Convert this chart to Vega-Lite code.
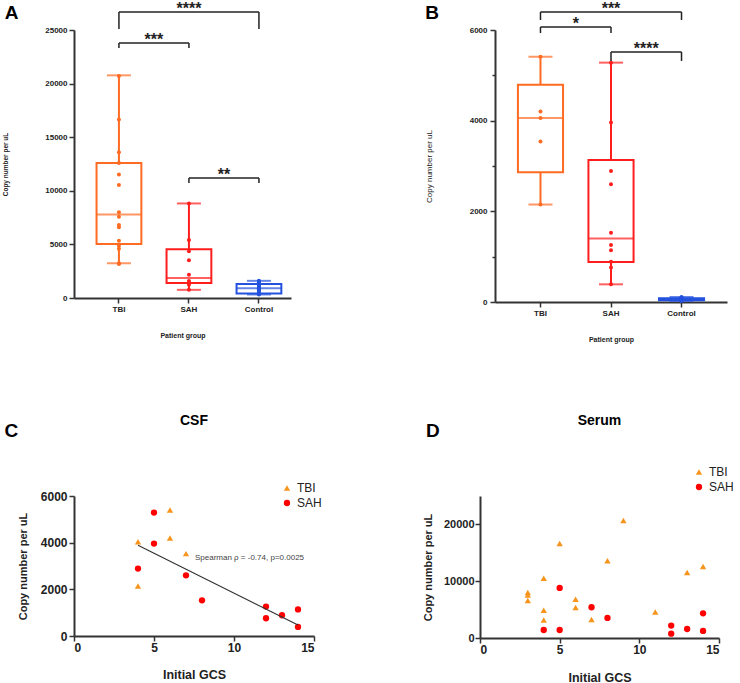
{
 "$schema": "https://vega.github.io/schema/vega-lite/v6.json",
 "background": "white",
 "padding": {"left": 2, "top": 0, "right": 0, "bottom": 0},
 "config": {
  "font": "Liberation Sans",
  "view": {"stroke": null},
  "axis": {"grid": false, "labelFont": "Liberation Sans", "titleFont": "Liberation Sans", "domainColor": "#333", "tickColor": "#333", "labelColor": "#222", "titleColor": "#222"},
  "title": {"font": "Liberation Sans", "color": "#000"},
  "legend": {"labelFont": "Liberation Sans"},
  "text": {"font": "Liberation Sans"}
 },
 "datasets": {
  "A_box": [
   {"group": "TBI", "min": 3240, "q1": 5030, "median": 7800, "q3": 12600, "max": 20770},
   {"group": "SAH", "min": 760, "q1": 1400, "median": 1870, "q3": 4550, "max": 8820},
   {"group": "Control", "min": 330, "q1": 430, "median": 900, "q3": 1300, "max": 1600}
  ],
  "A_pts": [
   {"group": "TBI", "value": 20700}, {"group": "TBI", "value": 16650}, {"group": "TBI", "value": 13590}, {"group": "TBI", "value": 12590}, {"group": "TBI", "value": 11530}, {"group": "TBI", "value": 10530}, {"group": "TBI", "value": 8000}, {"group": "TBI", "value": 7590}, {"group": "TBI", "value": 6820}, {"group": "TBI", "value": 6590}, {"group": "TBI", "value": 5350}, {"group": "TBI", "value": 4880}, {"group": "TBI", "value": 4590}, {"group": "TBI", "value": 3240}, {"group": "TBI", "value": 3180},
   {"group": "SAH", "value": 8820}, {"group": "SAH", "value": 5410}, {"group": "SAH", "value": 4350}, {"group": "SAH", "value": 3530}, {"group": "SAH", "value": 2180}, {"group": "SAH", "value": 1590}, {"group": "SAH", "value": 1410}, {"group": "SAH", "value": 1410}, {"group": "SAH", "value": 1240}, {"group": "SAH", "value": 760},
   {"group": "Control", "value": 1600}, {"group": "Control", "value": 1450}, {"group": "Control", "value": 1350}, {"group": "Control", "value": 1150}, {"group": "Control", "value": 1050}, {"group": "Control", "value": 950}, {"group": "Control", "value": 900}, {"group": "Control", "value": 800}, {"group": "Control", "value": 700}, {"group": "Control", "value": 550}, {"group": "Control", "value": 450}, {"group": "Control", "value": 380}, {"group": "Control", "value": 330}
  ],
  "A_br": [
   {"group": "TBI", "to": "Control", "y": 26680},
   {"group": "TBI", "to": "SAH", "y": 23790},
   {"group": "SAH", "to": "Control", "y": 11190}
  ],
  "A_ends": [
   {"group": "TBI", "y": 26680, "y2": 25090}, {"group": "Control", "y": 26680, "y2": 25090},
   {"group": "TBI", "y": 23790, "y2": 23320}, {"group": "SAH", "y": 23790, "y2": 23320},
   {"group": "SAH", "y": 11190, "y2": 10730}, {"group": "Control", "y": 11190, "y2": 10730}
  ],
  "A_lbl_adj": [{"group": "TBI", "y": 23790, "label": "***"}, {"group": "SAH", "y": 11190, "label": "**"}],
  "A_lbl_wide": [{"group": "SAH", "y": 26680, "label": "****"}],
  "B_box": [
   {"group": "TBI", "min": 2150, "q1": 2860, "median": 4060, "q3": 4790, "max": 5410},
   {"group": "SAH", "min": 390, "q1": 880, "median": 1400, "q3": 3130, "max": 5280},
   {"group": "Control", "min": 25, "q1": 40, "median": 62, "q3": 82, "max": 110}
  ],
  "B_pts": [
   {"group": "TBI", "value": 5410}, {"group": "TBI", "value": 4200}, {"group": "TBI", "value": 4060}, {"group": "TBI", "value": 3540}, {"group": "TBI", "value": 2150},
   {"group": "SAH", "value": 5280}, {"group": "SAH", "value": 3960}, {"group": "SAH", "value": 2890}, {"group": "SAH", "value": 2600}, {"group": "SAH", "value": 1530}, {"group": "SAH", "value": 1260}, {"group": "SAH", "value": 1140}, {"group": "SAH", "value": 890}, {"group": "SAH", "value": 760}, {"group": "SAH", "value": 390},
   {"group": "Control", "value": 110}, {"group": "Control", "value": 95}, {"group": "Control", "value": 88}, {"group": "Control", "value": 80}, {"group": "Control", "value": 72}, {"group": "Control", "value": 65}, {"group": "Control", "value": 60}, {"group": "Control", "value": 52}, {"group": "Control", "value": 45}, {"group": "Control", "value": 38}, {"group": "Control", "value": 30}, {"group": "Control", "value": 25}
  ],
  "B_br": [
   {"group": "TBI", "to": "Control", "y": 6397},
   {"group": "TBI", "to": "SAH", "y": 6066},
   {"group": "SAH", "to": "Control", "y": 5515}
  ],
  "B_ends": [
   {"group": "TBI", "y": 6397, "y2": 6221}, {"group": "Control", "y": 6397, "y2": 6221},
   {"group": "TBI", "y": 6066, "y2": 5934}, {"group": "SAH", "y": 6066, "y2": 5934},
   {"group": "SAH", "y": 5515, "y2": 5317}, {"group": "Control", "y": 5515, "y2": 5317}
  ],
  "B_lbl_adj": [{"group": "TBI", "y": 6066, "label": "*"}, {"group": "SAH", "y": 5515, "label": "****"}],
  "B_lbl_wide": [{"group": "SAH", "y": 6397, "label": "***"}],
  "C_pts": [
   {"gcs": 4, "copies": 4040, "group": "TBI"}, {"gcs": 4, "copies": 2140, "group": "TBI"}, {"gcs": 6, "copies": 5400, "group": "TBI"}, {"gcs": 6, "copies": 4200, "group": "TBI"}, {"gcs": 7, "copies": 3530, "group": "TBI"},
   {"gcs": 4, "copies": 2890, "group": "SAH"}, {"gcs": 5, "copies": 5290, "group": "SAH"}, {"gcs": 5, "copies": 3960, "group": "SAH"}, {"gcs": 7, "copies": 2600, "group": "SAH"}, {"gcs": 8, "copies": 1530, "group": "SAH"}, {"gcs": 12, "copies": 1260, "group": "SAH"}, {"gcs": 12, "copies": 760, "group": "SAH"}, {"gcs": 13, "copies": 890, "group": "SAH"}, {"gcs": 14, "copies": 1140, "group": "SAH"}, {"gcs": 14, "copies": 390, "group": "SAH"}
  ],
  "C_fit": [{"gcs": 4, "copies": 3890}, {"gcs": 14, "copies": 470}],
  "C_note": [{"gcs": 7.56, "copies": 3343, "label": "Spearman ρ = -0.74, p=0.0025"}],
  "C_tag": [{"gcs": -4.35, "copies": 8786, "label": "C"}],
  "D_pts": [
   {"gcs": 3, "copies": 8000, "group": "TBI"}, {"gcs": 3, "copies": 7590, "group": "TBI"}, {"gcs": 3, "copies": 6590, "group": "TBI"}, {"gcs": 4, "copies": 10530, "group": "TBI"}, {"gcs": 4, "copies": 4880, "group": "TBI"}, {"gcs": 4, "copies": 3180, "group": "TBI"}, {"gcs": 5, "copies": 16650, "group": "TBI"}, {"gcs": 6, "copies": 6820, "group": "TBI"}, {"gcs": 6, "copies": 5350, "group": "TBI"}, {"gcs": 7, "copies": 3240, "group": "TBI"}, {"gcs": 8, "copies": 13590, "group": "TBI"}, {"gcs": 9, "copies": 20700, "group": "TBI"}, {"gcs": 11, "copies": 4590, "group": "TBI"}, {"gcs": 13, "copies": 11530, "group": "TBI"}, {"gcs": 14, "copies": 12590, "group": "TBI"},
   {"gcs": 4, "copies": 1410, "group": "SAH"}, {"gcs": 5, "copies": 8820, "group": "SAH"}, {"gcs": 5, "copies": 1410, "group": "SAH"}, {"gcs": 7, "copies": 5410, "group": "SAH"}, {"gcs": 8, "copies": 3530, "group": "SAH"}, {"gcs": 12, "copies": 2180, "group": "SAH"}, {"gcs": 12, "copies": 760, "group": "SAH"}, {"gcs": 13, "copies": 1590, "group": "SAH"}, {"gcs": 14, "copies": 4350, "group": "SAH"}, {"gcs": 14, "copies": 1240, "group": "SAH"}
  ],
  "D_tag": [{"gcs": -3.39, "copies": 36440, "label": "D"}]
 },
 "spacing": 71,
 "resolve": {"scale": {"color": "independent", "shape": "independent"}, "legend": {"color": "independent", "shape": "independent"}},
 "vconcat": [
  {
   "resolve": {"scale": {"color": "independent", "shape": "independent"}, "legend": {"color": "independent", "shape": "independent"}},
   "hconcat": [
    {
     "width": 217, "height": 268,
     "title": {"text": "A", "anchor": "start", "frame": "bounds", "fontSize": 19, "fontWeight": "bold", "offset": -22, "dx": 2},
     "layer": [
      {"data": {"name": "A_box"}, "mark": {"type": "bar", "filled": false, "strokeWidth": 2},
       "encoding": {
        "x": {"field": "group", "type": "nominal", "scale": {"domain": ["TBI", "SAH", "Control"], "paddingInner": 0.36, "paddingOuter": 0.23, "align": 0.7},
              "axis": {"title": "Patient group", "labelAngle": 0, "labelFontSize": 8, "labelFontWeight": "bold", "titleFontSize": 7, "titleFontWeight": "bold", "titlePadding": 18, "tickSize": 5, "labelPadding": 2, "domainWidth": 2, "tickWidth": 1.5}},
        "y": {"field": "q1", "type": "quantitative", "scale": {"domain": [0, 25000], "nice": false},
              "axis": {"title": "Copy number per uL", "labelOverlap": {"expr": "false"}, "values": [0, 2500, 5000, 7500, 10000, 12500, 15000, 17500, 20000, 22500, 25000], "format": "d", "labelExpr": "datum.value % 5000 === 0 ? datum.label : ''", "tickSize": {"condition": {"test": "datum.value % 5000 === 0", "value": 5}, "value": 3}, "labelFontSize": 8, "labelFontWeight": "bold", "titleFontSize": 6.5, "titleFontWeight": "bold", "titlePadding": 36, "labelPadding": 2, "domainWidth": 2, "tickWidth": 1.5}},
        "y2": {"field": "q3"},
        "color": {"field": "group", "type": "nominal", "scale": {"domain": ["TBI", "SAH", "Control"], "range": ["#FF6B22", "#FF1E1E", "#2452DE"]}, "legend": null}
       }},
      {"data": {"name": "A_box"}, "mark": {"type": "rule", "strokeWidth": 2},
       "encoding": {"x": {"field": "group", "type": "nominal"}, "y": {"field": "min", "type": "quantitative"}, "y2": {"field": "q1"}, "color": {"field": "group", "type": "nominal", "legend": null}}},
      {"data": {"name": "A_box"}, "mark": {"type": "rule", "strokeWidth": 2},
       "encoding": {"x": {"field": "group", "type": "nominal"}, "y": {"field": "q3", "type": "quantitative"}, "y2": {"field": "max"}, "color": {"field": "group", "type": "nominal", "legend": null}}},
      {"data": {"name": "A_box"}, "mark": {"type": "tick", "thickness": 2, "size": 24},
       "encoding": {"x": {"field": "group", "type": "nominal"}, "y": {"field": "min", "type": "quantitative"}, "color": {"field": "group", "type": "nominal", "legend": null}}},
      {"data": {"name": "A_box"}, "mark": {"type": "tick", "thickness": 2, "size": 24},
       "encoding": {"x": {"field": "group", "type": "nominal"}, "y": {"field": "max", "type": "quantitative"}, "color": {"field": "group", "type": "nominal", "legend": null}}},
      {"data": {"name": "A_box"}, "mark": {"type": "tick", "thickness": 2, "size": 45},
       "encoding": {"x": {"field": "group", "type": "nominal"}, "y": {"field": "median", "type": "quantitative"}, "color": {"field": "group", "type": "nominal", "legend": null}}},
      {"data": {"name": "A_pts"}, "mark": {"type": "circle", "size": 16, "opacity": 1},
       "encoding": {"x": {"field": "group", "type": "nominal"}, "y": {"field": "value", "type": "quantitative"}, "color": {"field": "group", "type": "nominal", "legend": null}}},
      {"data": {"name": "A_br"}, "mark": {"type": "rule", "color": "#222", "strokeWidth": 1.5},
       "encoding": {"x": {"field": "group", "type": "nominal"}, "x2": {"field": "to"}, "y": {"field": "y", "type": "quantitative"}}},
      {"data": {"name": "A_ends"}, "mark": {"type": "rule", "color": "#222", "strokeWidth": 1.5},
       "encoding": {"x": {"field": "group", "type": "nominal"}, "y": {"field": "y", "type": "quantitative"}, "y2": {"field": "y2"}}},
      {"data": {"name": "A_lbl_adj"}, "mark": {"type": "text", "fontSize": 16, "fontWeight": "bold", "baseline": "alphabetic", "dy": 2, "color": "#222"},
       "encoding": {"x": {"field": "group", "type": "nominal", "bandPosition": 1.28125}, "y": {"field": "y", "type": "quantitative"}, "text": {"field": "label"}}},
      {"data": {"name": "A_lbl_wide"}, "mark": {"type": "text", "fontSize": 16, "fontWeight": "bold", "baseline": "alphabetic", "dy": 2, "color": "#222"},
       "encoding": {"x": {"field": "group", "type": "nominal"}, "y": {"field": "y", "type": "quantitative"}, "text": {"field": "label"}}}
     ]
    },
    {
     "width": 232, "height": 272,
     "title": {"text": "B", "anchor": "start", "frame": "bounds", "fontSize": 19, "fontWeight": "bold", "offset": -22, "dx": 0},
     "layer": [
      {"data": {"name": "B_box"}, "mark": {"type": "bar", "filled": false, "strokeWidth": 2},
       "encoding": {
        "x": {"field": "group", "type": "nominal", "scale": {"domain": ["TBI", "SAH", "Control"], "paddingInner": 0.36, "paddingOuter": 0.325, "align": 0.5},
              "axis": {"title": "Patient group", "labelAngle": 0, "labelFontSize": 8, "labelFontWeight": "bold", "titleFontSize": 7, "titleFontWeight": "bold", "titlePadding": 18, "tickSize": 5, "labelPadding": 2, "domainWidth": 2, "tickWidth": 1.5}},
        "y": {"field": "q1", "type": "quantitative", "scale": {"domain": [0, 6000], "nice": false},
              "axis": {"title": "Copy number per uL", "labelOverlap": {"expr": "false"}, "values": [0, 1000, 2000, 3000, 4000, 5000, 6000], "format": "d", "labelExpr": "datum.value % 2000 === 0 ? datum.label : ''", "tickSize": {"condition": {"test": "datum.value % 2000 === 0", "value": 5}, "value": 3}, "labelFontSize": 8, "labelFontWeight": "bold", "titleFontSize": 8, "titleFontWeight": "normal", "titlePadding": 36, "labelPadding": 3, "domainWidth": 2, "tickWidth": 1.5}},
        "y2": {"field": "q3"},
        "color": {"field": "group", "type": "nominal", "scale": {"domain": ["TBI", "SAH", "Control"], "range": ["#FF6B22", "#FF1E1E", "#2452DE"]}, "legend": null}
       }},
      {"data": {"name": "B_box"}, "mark": {"type": "rule", "strokeWidth": 2},
       "encoding": {"x": {"field": "group", "type": "nominal"}, "y": {"field": "min", "type": "quantitative"}, "y2": {"field": "q1"}, "color": {"field": "group", "type": "nominal", "legend": null}}},
      {"data": {"name": "B_box"}, "mark": {"type": "rule", "strokeWidth": 2},
       "encoding": {"x": {"field": "group", "type": "nominal"}, "y": {"field": "q3", "type": "quantitative"}, "y2": {"field": "max"}, "color": {"field": "group", "type": "nominal", "legend": null}}},
      {"data": {"name": "B_box"}, "mark": {"type": "tick", "thickness": 2, "size": 24},
       "encoding": {"x": {"field": "group", "type": "nominal"}, "y": {"field": "min", "type": "quantitative"}, "color": {"field": "group", "type": "nominal", "legend": null}}},
      {"data": {"name": "B_box"}, "mark": {"type": "tick", "thickness": 2, "size": 24},
       "encoding": {"x": {"field": "group", "type": "nominal"}, "y": {"field": "max", "type": "quantitative"}, "color": {"field": "group", "type": "nominal", "legend": null}}},
      {"data": {"name": "B_box"}, "mark": {"type": "tick", "thickness": 2, "size": 45},
       "encoding": {"x": {"field": "group", "type": "nominal"}, "y": {"field": "median", "type": "quantitative"}, "color": {"field": "group", "type": "nominal", "legend": null}}},
      {"data": {"name": "B_pts"}, "mark": {"type": "circle", "size": 16, "opacity": 1},
       "encoding": {"x": {"field": "group", "type": "nominal"}, "y": {"field": "value", "type": "quantitative"}, "color": {"field": "group", "type": "nominal", "legend": null}}},
      {"data": {"name": "B_br"}, "mark": {"type": "rule", "color": "#222", "strokeWidth": 1.5},
       "encoding": {"x": {"field": "group", "type": "nominal"}, "x2": {"field": "to"}, "y": {"field": "y", "type": "quantitative"}}},
      {"data": {"name": "B_ends"}, "mark": {"type": "rule", "color": "#222", "strokeWidth": 1.5},
       "encoding": {"x": {"field": "group", "type": "nominal"}, "y": {"field": "y", "type": "quantitative"}, "y2": {"field": "y2"}}},
      {"data": {"name": "B_lbl_adj"}, "mark": {"type": "text", "fontSize": 16, "fontWeight": "bold", "baseline": "alphabetic", "dy": 2, "color": "#222"},
       "encoding": {"x": {"field": "group", "type": "nominal", "bandPosition": 1.28125}, "y": {"field": "y", "type": "quantitative"}, "text": {"field": "label"}}},
      {"data": {"name": "B_lbl_wide"}, "mark": {"type": "text", "fontSize": 16, "fontWeight": "bold", "baseline": "alphabetic", "dy": 2, "color": "#222"},
       "encoding": {"x": {"field": "group", "type": "nominal"}, "y": {"field": "y", "type": "quantitative"}, "text": {"field": "label"}}}
     ]
    }
   ],
   "spacing": 134
  },
  {
   "resolve": {"scale": {"color": "independent", "shape": "independent"}, "legend": {"color": "independent", "shape": "independent"}},
   "hconcat": [
    {
     "width": 240, "height": 140,
     "title": {"text": "CSF", "fontSize": 14, "fontWeight": "bold", "anchor": "middle", "frame": "group", "offset": -6},
     "layer": [
      {"data": {"name": "C_pts"}, "mark": {"type": "point", "filled": true, "size": 40, "opacity": 1},
       "encoding": {
        "x": {"field": "gcs", "type": "quantitative", "scale": {"domain": [0, 15], "nice": false, "zero": false},
              "axis": {"title": "Initial GCS", "labelOverlap": {"expr": "false"}, "values": [0, 5, 10, 15], "tickSize": 5, "labelFontSize": 12, "labelFontWeight": "bold", "titleFontSize": 12.5, "titleFontWeight": "bold", "titlePadding": 15, "labelPadding": 1, "domainWidth": 2, "tickWidth": 1.5}},
        "y": {"field": "copies", "type": "quantitative", "scale": {"domain": [0, 6000], "nice": false},
              "axis": {"title": "Copy number per uL", "labelOverlap": {"expr": "false"}, "values": [0, 2000, 4000, 6000], "format": "d", "tickSize": 5, "labelFontSize": 12, "labelFontWeight": "bold", "titleFontSize": 11, "titleFontWeight": "bold", "titlePadding": 12, "labelPadding": 2, "domainWidth": 2, "tickWidth": 1.5}},
        "color": {"field": "group", "type": "nominal", "scale": {"domain": ["TBI", "SAH"], "range": ["#F7941D", "#FF0000"]},
                  "legend": {"title": null, "orient": "none", "legendX": 207, "legendY": -14, "labelFontSize": 12, "symbolSize": 40, "rowPadding": 3, "labelColor": "#222"}},
        "shape": {"field": "group", "type": "nominal", "scale": {"domain": ["TBI", "SAH"], "range": ["triangle-up", "circle"]},
                  "legend": {"title": null, "orient": "none", "legendX": 207, "legendY": -14, "labelFontSize": 12, "symbolSize": 40, "rowPadding": 3, "labelColor": "#222"}}
       }},
      {"data": {"name": "C_fit"}, "mark": {"type": "line", "color": "#333", "strokeWidth": 1.2},
       "encoding": {"x": {"field": "gcs", "type": "quantitative"}, "y": {"field": "copies", "type": "quantitative"}}},
      {"data": {"name": "C_note"}, "mark": {"type": "text", "align": "left", "baseline": "middle", "fontSize": 8, "color": "#444"},
       "encoding": {"x": {"field": "gcs", "type": "quantitative"}, "y": {"field": "copies", "type": "quantitative"}, "text": {"field": "label"}}},
      {"data": {"name": "C_tag"}, "mark": {"type": "text", "align": "left", "baseline": "middle", "fontSize": 19, "fontWeight": "bold", "color": "#000"},
       "encoding": {"x": {"field": "gcs", "type": "quantitative"}, "y": {"field": "copies", "type": "quantitative"}, "text": {"field": "label"}}}
     ]
    },
    {
     "width": 239, "height": 142,
     "title": {"text": "Serum", "fontSize": 14, "fontWeight": "bold", "anchor": "middle", "frame": "group", "offset": -6},
     "layer": [
      {"data": {"name": "D_pts"}, "mark": {"type": "point", "filled": true, "size": 40, "opacity": 1},
       "encoding": {
        "x": {"field": "gcs", "type": "quantitative", "scale": {"domain": [0, 15], "nice": false, "zero": false},
              "axis": {"title": "Initial GCS", "labelOverlap": {"expr": "false"}, "values": [0, 5, 10, 15], "tickSize": 5, "labelFontSize": 12, "labelFontWeight": "bold", "titleFontSize": 12.5, "titleFontWeight": "bold", "titlePadding": 16, "labelPadding": 1, "domainWidth": 2, "tickWidth": 1.5}},
        "y": {"field": "copies", "type": "quantitative", "scale": {"domain": [0, 25000], "nice": false},
              "axis": {"title": "Copy number per uL", "labelOverlap": false, "labelSeparation": -30, "values": [0, 5000, 10000, 15000, 20000, 25000], "format": "d", "tickSize": 5, "labelFontSize": 11, "labelFontWeight": "bold", "titleFontSize": 11, "titleFontWeight": "bold", "titlePadding": 10, "labelPadding": 1, "domainWidth": 2, "tickWidth": 1.5}},
        "color": {"field": "group", "type": "nominal", "scale": {"domain": ["TBI", "SAH"], "range": ["#F7941D", "#FF0000"]},
                  "legend": {"title": null, "orient": "none", "legendX": 213, "legendY": -30, "labelFontSize": 12, "symbolSize": 40, "rowPadding": 3, "labelColor": "#222"}},
        "shape": {"field": "group", "type": "nominal", "scale": {"domain": ["TBI", "SAH"], "range": ["triangle-up", "circle"]},
                  "legend": {"title": null, "orient": "none", "legendX": 213, "legendY": -30, "labelFontSize": 12, "symbolSize": 40, "rowPadding": 3, "labelColor": "#222"}}
       }},
      {"data": {"name": "D_tag"}, "mark": {"type": "text", "align": "left", "baseline": "middle", "fontSize": 19, "fontWeight": "bold", "color": "#000"},
       "encoding": {"x": {"field": "gcs", "type": "quantitative"}, "y": {"field": "copies", "type": "quantitative"}, "text": {"field": "label"}}}
     ]
    }
   ],
   "spacing": 100
  }
 ]
}
